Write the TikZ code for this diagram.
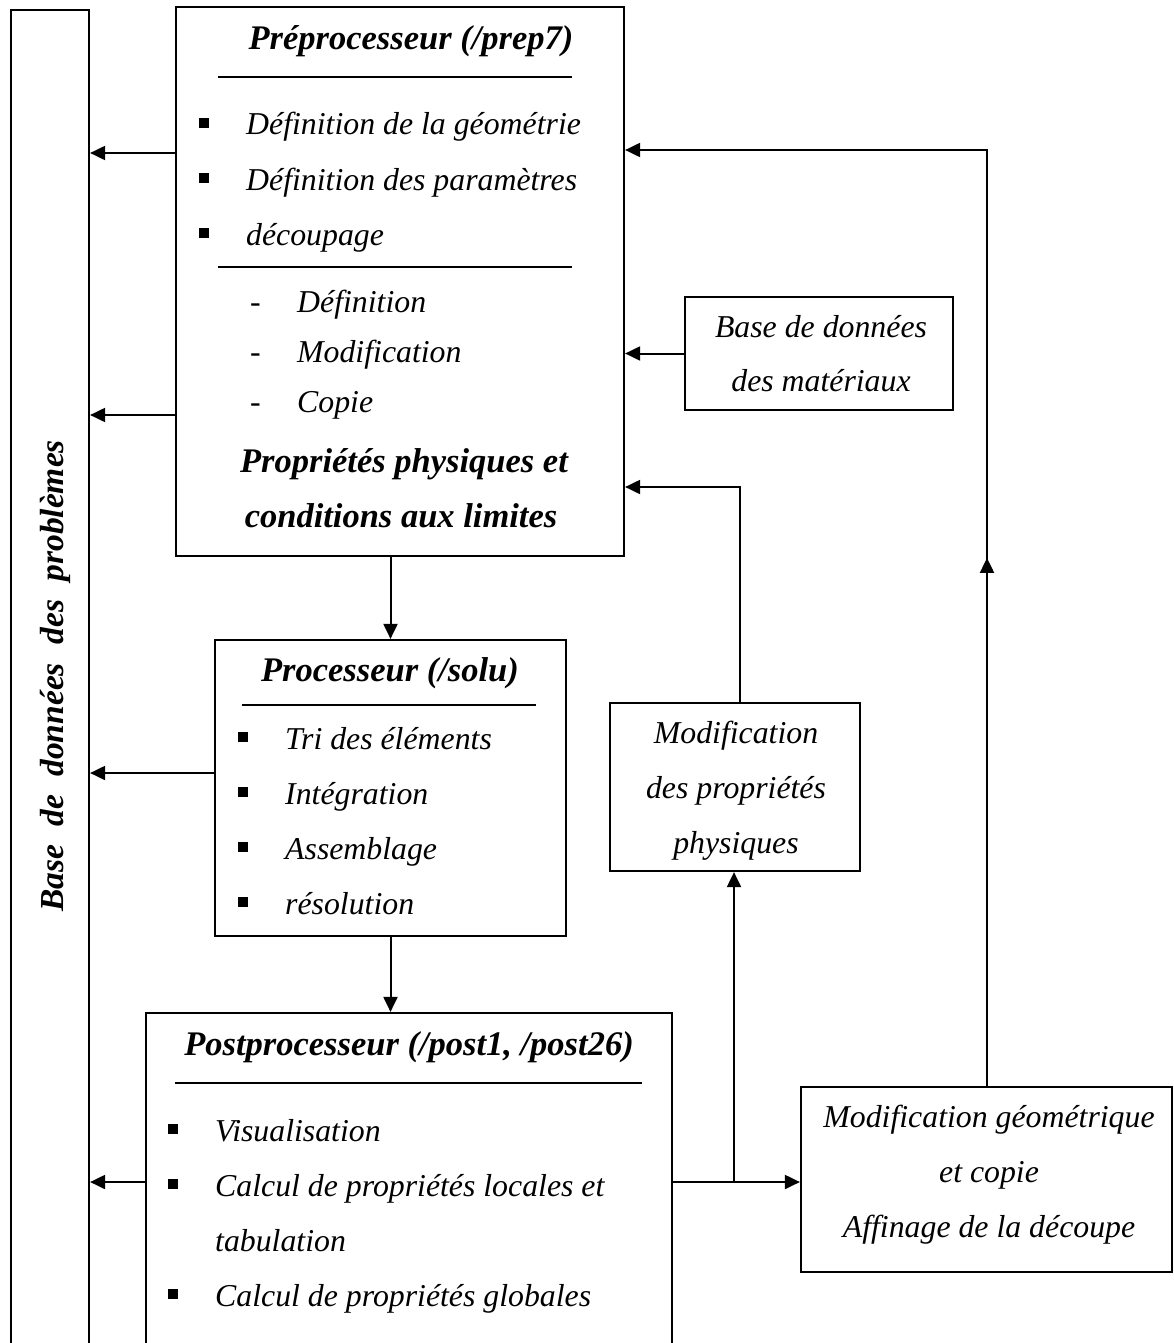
\documentclass[tikz,border=0pt]{standalone}
\usepackage{fontspec}
\setmainfont{Liberation Serif}
\usetikzlibrary{arrows.meta,decorations.markings}
\begin{document}
\begin{tikzpicture}[x=1pt,y=-1pt,
  box/.style={draw,line width=2.2pt,inner sep=0pt,rectangle},
  arr/.style={line width=2pt,-{Triangle[length=15pt,width=14pt]}},
  ln/.style={line width=2pt},
  rule/.style={line width=2pt},
  txt/.style={font=\fontsize{31.8}{36}\selectfont\itshape,inner sep=0pt,anchor=base west},
  ctxt/.style={font=\fontsize{31.8}{36}\selectfont\itshape,inner sep=0pt,anchor=base},
  hd/.style={font=\fontsize{34.5}{40}\selectfont\bfseries\itshape,inner sep=0pt,anchor=base},
  sq/.style={fill,minimum size=9.5pt,inner sep=0pt,rectangle}]
\useasboundingbox (0,0) rectangle (1173,1343);

% boxes
\node[box,minimum width=78pt,minimum height=1390pt] (db) at (50,705) {};
\node[box,minimum width=448pt,minimum height=549pt] (prep) at (400,281.5) {};
\node[box,minimum width=268pt,minimum height=113pt] (mat) at (819,353.5) {};
\node[box,minimum width=250pt,minimum height=168pt] (mp) at (735,787) {};
\node[box,minimum width=351pt,minimum height=296pt] (proc) at (390.5,788) {};
\node[box,minimum width=526pt,minimum height=387pt] (post) at (409,1206.5) {};
\node[box,minimum width=371pt,minimum height=185pt] (mg) at (986.5,1179.5) {};

% vertical label
\node[hd,rotate=90,font=\fontsize{33.5}{40}\selectfont\bfseries\itshape] (dbt) at (63,676)
  {Base\hspace{0.55em}de\hspace{0.55em}données\hspace{0.55em}des\hspace{0.55em}problèmes};

% preprocessor
\node[hd] (pt) at (411,50) {Préprocesseur (/prep7)};
\draw[rule] (218,77) -- (572,77);
\node[sq] (pb1) at (204,123) {};
\node[sq] (pb2) at (204,178) {};
\node[sq] (pb3) at (204,233) {};
\node[txt] (p1) at (246,135) {Définition de la géométrie};
\node[txt] (p2) at (246,190) {Définition des paramètres};
\node[txt] (p3) at (246,245) {découpage};
\draw[rule] (218,267) -- (572,267);
\node[txt] (d1) at (250,312) {-};
\node[txt] (d2) at (250,362) {-};
\node[txt] (d3) at (250,412) {-};
\node[txt] (q1) at (297,312) {Définition};
\node[txt] (q2) at (297,362) {Modification};
\node[txt] (q3) at (297,412) {Copie};
\node[hd] (pp1) at (404,472) {Propriétés physiques et};
\node[hd] (pp2) at (401,527) {conditions aux limites};

% materials
\node[ctxt] (m1) at (821,337) {Base de données};
\node[ctxt] (m2) at (821,391) {des matériaux};

% modification props
\node[ctxt] (mp1) at (736,743) {Modification};
\node[ctxt] (mp2) at (736,798) {des propriétés};
\node[ctxt] (mp3) at (736,853) {physiques};

% processor
\node[hd] (prt) at (390,681) {Processeur (/solu)};
\draw[rule] (242,705) -- (536,705);
\node[sq] (rb1) at (243,737) {};
\node[sq] (rb2) at (243,792) {};
\node[sq] (rb3) at (243,847) {};
\node[sq] (rb4) at (243,902) {};
\node[txt] (r1) at (285,749) {Tri des éléments};
\node[txt] (r2) at (285,804) {Intégration};
\node[txt] (r3) at (285,859) {Assemblage};
\node[txt] (r4) at (285,914) {résolution};

% postprocessor
\node[hd] (pot) at (409,1055) {Postprocesseur (/post1, /post26)};
\draw[rule] (175,1083) -- (642,1083);
\node[sq] (ob1) at (173,1129) {};
\node[sq] (ob2) at (173,1184) {};
\node[sq] (ob4) at (173,1294) {};
\node[txt] (o1) at (215,1141) {Visualisation};
\node[txt] (o2) at (215,1196) {Calcul de propriétés locales et};
\node[txt] (o3) at (215,1251) {tabulation};
\node[txt] (o4) at (215,1306) {Calcul de propriétés globales};

% geometric modification
\node[ctxt] (g1) at (989,1127) {Modification géométrique};
\node[ctxt] (g2) at (989,1182) {et copie};
\node[ctxt] (g3) at (989,1237) {Affinage de la découpe};

% helper coordinates
\coordinate (y153) at (0,153);
\coordinate (y415) at (0,415);
\coordinate (y773) at (0,773);
\coordinate (j) at (734,1182);
\coordinate (k) at (740,487);
\coordinate (t) at (987,150);

% connectors
\draw[arr] (prep.west |- y153) -- (db.east |- y153);
\draw[arr] (prep.west |- y415) -- (db.east |- y415);
\draw[arr] (proc.west |- y773) -- (db.east |- y773);
\draw[arr] (post.west |- j) -- (db.east |- j);
\draw[arr] (proc.north |- prep.south) -- (proc.north);
\draw[arr] (proc.south) -- (proc.south |- post.north);
\draw[arr] (mat.west) -- (mat.west -| prep.east);
\draw[arr] (k |- mp.north) -- (k) -- (k -| prep.east);
\draw[arr] (post.east |- j) -- (j -| mg.west);
\draw[arr] (j) -- (j |- mp.south);
\draw[ln,-{Triangle[length=15pt,width=14pt]},
  postaction={decorate},
  decoration={markings,mark=at position 528pt with {\arrow{Triangle[length=15pt,width=14pt]}}}]
  (t |- mg.north) -- (t) -- (t -| prep.east);
\end{tikzpicture}
\end{document}
